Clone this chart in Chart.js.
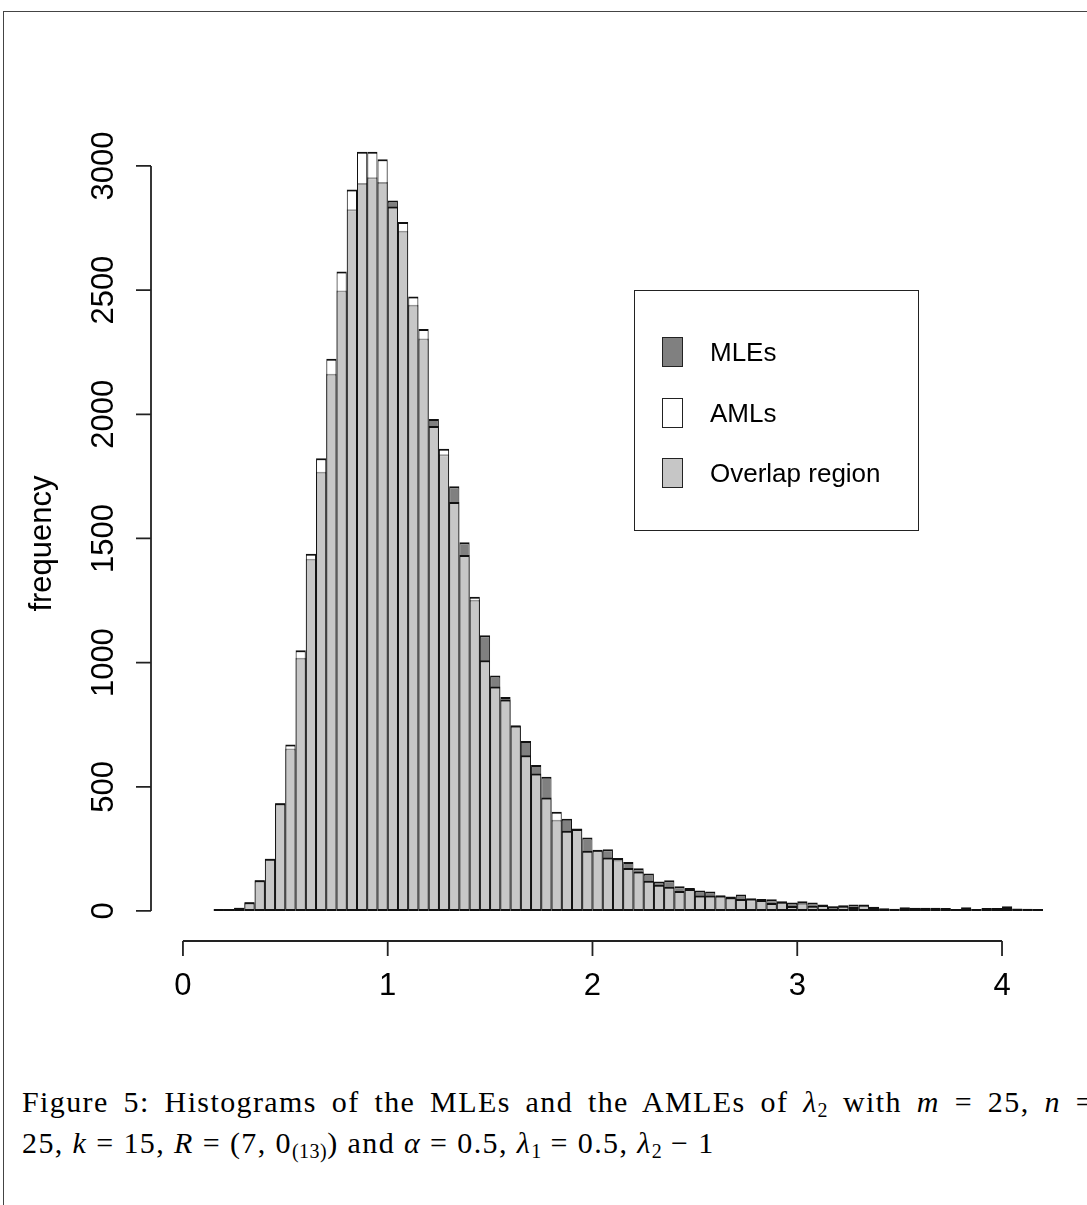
<!DOCTYPE html>
<html>
<head>
<meta charset="utf-8">
<script src="https://cdn.jsdelivr.net/npm/chart.js@4"></script>
<style>
  body { margin: 0; background: #fff; width: 1087px; height: 1205px; overflow: hidden; position: relative; }
  .frame { position: absolute; left: 3px; top: 11px; width: 1100px; height: 1210px; border-left: 1.5px solid #444; border-top: 1.5px solid #444; }
  .plot { position: absolute; left: 0; top: 0; width: 1087px; height: 1050px; }
  .legend { position: absolute; left: 634px; top: 290px; width: 283px; height: 239px; border: 1.5px solid #222;
            font-family: "Liberation Sans", Arial, sans-serif; font-size: 26px; color: #000; }
  .legend .item { position: absolute; left: 27px; height: 30px; }
  .legend .sw { position: absolute; left: 0; top: 0; width: 19px; height: 28px; border: 1.5px solid #222; }
  .legend .lbl { position: absolute; left: 48px; top: 0; line-height: 30px; white-space: nowrap; }
  .caption { position: absolute; left: 22px; top: 1081px; width: 1072px; font-family: "Liberation Serif", "Times New Roman", serif;
             font-size: 30px; letter-spacing: 1.4px; color: #000; line-height: 41px; }
  .caption .l1 { text-align: justify; text-align-last: justify; white-space: nowrap; }
  .caption .l2 { white-space: nowrap; }
  .caption i { font-style: italic; }
  .caption sub { font-size: 20px; vertical-align: -5px; line-height: 0; letter-spacing: 0.5px; }
</style>
</head>
<body>
<div class="frame"></div>
<div class="plot"><canvas id="histChart"></canvas></div>
<div class="legend">
  <div class="item" style="top:46px"><div class="sw" style="background:#808080"></div><div class="lbl">MLEs</div></div>
  <div class="item" style="top:107px"><div class="sw" style="background:#fff"></div><div class="lbl">AMLs</div></div>
  <div class="item" style="top:167px"><div class="sw" style="background:#c6c6c6"></div><div class="lbl">Overlap region</div></div>
</div>
<div class="caption">
  <div class="l1">Figure 5: Histograms of the MLEs and the AMLEs of <i>λ</i><sub>2</sub> with <i>m</i> = 25, <i>n</i> =</div>
  <div class="l2">25, <i>k</i> = 15, <i>R</i> = (7, 0<sub>(13)</sub>) and <i>α</i> = 0.5, <i>λ</i><sub>1</sub> = 0.5, <i>λ</i><sub>2</sub> − 1</div>
</div>
<script>
// bin midpoints (bins of width 0.05 from 0.15 to 4.20)
const binMids = [
  0.175, 0.225, 0.275, 0.325, 0.375, 0.425, 0.475, 0.525, 0.575, 0.625,
  0.675, 0.725, 0.775, 0.825, 0.875, 0.925, 0.975, 1.025, 1.075, 1.125,
  1.175, 1.225, 1.275, 1.325, 1.375, 1.425, 1.475, 1.525, 1.575, 1.625,
  1.675, 1.725, 1.775, 1.825, 1.875, 1.925, 1.975, 2.025, 2.075, 2.125,
  2.175, 2.225, 2.275, 2.325, 2.375, 2.425, 2.475, 2.525, 2.575, 2.625,
  2.675, 2.725, 2.775, 2.825, 2.875, 2.925, 2.975, 3.025, 3.075, 3.125,
  3.175, 3.225, 3.275, 3.325, 3.375, 3.425, 3.475, 3.525, 3.575, 3.625,
  3.675, 3.725, 3.775, 3.825, 3.875, 3.925, 3.975, 4.025, 4.075, 4.125,
  4.175
];

const mleCounts = [
  2, 5, 13, 35, 124, 210, 434, 654, 1020, 1418,
  1769, 2163, 2498, 2826, 2931, 2955, 2935, 2861, 2739, 2441,
  2305, 1981, 1839, 1710, 1485, 1253, 1110, 948, 862, 745,
  684, 588, 540, 367, 371, 332, 296, 243, 248, 206,
  197, 172, 151, 119, 124, 99, 92, 82, 78, 60,
  58, 66, 47, 48, 47, 39, 34, 32, 34, 26,
  19, 23, 26, 24, 17, 11, 9, 15, 13, 13,
  13, 8, 8, 15, 6, 11, 12, 19, 10, 9,
  5
];

const amlCounts = [
  2, 5, 13, 35, 124, 210, 434, 670, 1050, 1438,
  1823, 2224, 2575, 2905, 3057, 3057, 3027, 2837, 2774, 2474,
  2343, 1953, 1861, 1647, 1433, 1265, 1010, 904, 851, 748,
  627, 554, 457, 399, 323, 330, 242, 246, 215, 213,
  173, 159, 122, 106, 97, 80, 88, 62, 62, 63,
  55, 48, 51, 44, 32, 37, 20, 39, 21, 24,
  18, 21, 16, 26, 15, 9, 8, 12, 11, 10,
  11, 12, 6, 9, 8, 12, 10, 12, 8, 8,
  4
];

const xTicks = [0, 1, 2, 3, 4];
const yTicks = [0, 500, 1000, 1500, 2000, 2500, 3000];

const AXIS_FONT = '31px "Liberation Sans", Arial, sans-serif';

// R style axes: lines only span the tick range, labels rotated on y
const rAxes = {
    id: 'rAxes',
    afterDraw(chart) {
        const { ctx, chartArea } = chart;
        const xs = chart.scales.x;
        const ys = chart.scales.y;
        ctx.save();
        ctx.strokeStyle = '#222';
        ctx.lineWidth = 1.8;
        ctx.fillStyle = '#000';
        ctx.font = AXIS_FONT;

        const xb = chartArea.bottom;
        ctx.beginPath();
        ctx.moveTo(xs.getPixelForValue(xTicks[0]), xb);
        ctx.lineTo(xs.getPixelForValue(xTicks[xTicks.length - 1]), xb);
        xTicks.forEach(v => {
            const px = xs.getPixelForValue(v);
            ctx.moveTo(px, xb);
            ctx.lineTo(px, xb + 15);
        });
        const yl = chartArea.left;
        ctx.moveTo(yl, ys.getPixelForValue(yTicks[0]));
        ctx.lineTo(yl, ys.getPixelForValue(yTicks[yTicks.length - 1]));
        yTicks.forEach(v => {
            const py = ys.getPixelForValue(v);
            ctx.moveTo(yl, py);
            ctx.lineTo(yl - 15, py);
        });
        ctx.stroke();

        ctx.textAlign = 'center';
        ctx.textBaseline = 'alphabetic';
        xTicks.forEach(v => {
            ctx.fillText(String(v), xs.getPixelForValue(v), xb + 54);
        });
        yTicks.forEach(v => {
            ctx.save();
            ctx.translate(yl - 38, ys.getPixelForValue(v));
            ctx.rotate(-Math.PI / 2);
            ctx.fillText(String(v), 0, 0);
            ctx.restore();
        });

        ctx.save();
        ctx.translate(51, (chartArea.top + chartArea.bottom) / 2 + 12);
        ctx.rotate(-Math.PI / 2);
        ctx.fillText('frequency', 0, 0);
        ctx.restore();

        ctx.restore();
    }
};

function toPoints(values) {
    return binMids.map((m, i) => ({ x: m, y: values[i] }));
}

const barStyle = {
    type: 'bar',
    grouped: false,
    barPercentage: 1,
    categoryPercentage: 1,
    inflateAmount: 0,
    borderSkipped: false,
    borderColor: '#111',
    borderWidth: { top: 2, right: 1, bottom: 2, left: 1 },
    minBarLength: 2
};

const ctx = document.getElementById('histChart').getContext('2d');
new Chart(ctx, {
    type: 'bar',
    data: {
        datasets: [
            Object.assign({}, barStyle, {
                label: 'MLEs',
                data: toPoints(mleCounts),
                backgroundColor: '#808080',
                order: 2
            }),
            Object.assign({}, barStyle, {
                label: 'AMLs',
                data: toPoints(amlCounts),
                backgroundColor: 'rgba(255,255,255,0.56)',
                order: 1
            })
        ]
    },
    options: {
        responsive: true,
        maintainAspectRatio: false,
        animation: false,
        layout: { padding: { left: 151, top: 122, right: 0, bottom: 109 } },
        plugins: {
            legend: { display: false },
            tooltip: { enabled: false }
        },
        scales: {
            x: { type: 'linear', min: -0.156, max: 4.415, offset: false, display: false },
            y: { type: 'linear', min: -121, max: 3177, display: false }
        }
    },
    plugins: [rAxes]
});
</script>
</body>
</html>
